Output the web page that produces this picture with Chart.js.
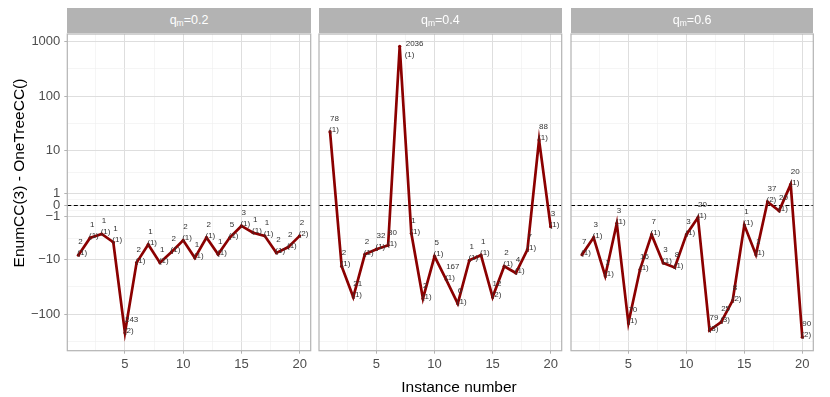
<!DOCTYPE html>
<html>
<head>
<meta charset="utf-8">
<script src="https://cdn.jsdelivr.net/npm/chart.js@4.4.0/dist/chart.umd.min.js"></script>
<style>
body{margin:0;background:#fff;}
#wrap{position:relative;width:830px;height:397px;overflow:hidden;font-family:"Liberation Sans",Arial,sans-serif;}
#wrap canvas{position:absolute;left:0;top:0;}
.strip{position:absolute;top:8.3px;height:25px;background:#b3b3b3;color:#fff;font-size:12.5px;line-height:25px;text-align:center;}
.strip sub{font-size:8.5px;line-height:0;vertical-align:-2px;}
#xtitle{position:absolute;left:359px;top:378px;width:200px;text-align:center;font-size:15.5px;line-height:18px;color:#000;}
#ytitle{position:absolute;left:-106px;top:163.5px;width:250px;height:18px;text-align:center;font-size:15.5px;line-height:18px;color:#000;transform:rotate(-90deg);}
</style>
</head>
<body>
<div id="wrap">
  <canvas id="p1" width="830" height="397"></canvas>
  <canvas id="p2" width="830" height="397"></canvas>
  <canvas id="p3" width="830" height="397"></canvas>
  <div class="strip" style="left:67.3px;width:243.4px">q<sub>m</sub>=0.2</div>
  <div class="strip" style="left:319px;width:242.7px">q<sub>m</sub>=0.4</div>
  <div class="strip" style="left:571px;width:242.3px">q<sub>m</sub>=0.6</div>
  <div id="xtitle">Instance number</div>
  <div id="ytitle">EnumCC(3) - OneTreeCC()</div>
</div>
<script>
// data
const instances = [1,2,3,4,5,6,7,8,9,10,11,12,13,14,15,16,17,18,19,20];

const diffQ02 = [-8.2,-3.75,-3.1,-4.6,-221,-11.3,-5.1,-11.3,-7.1,-4.2,-9.2,-3.7,-7.9,-3.7,-2.0,-2.9,-3.4,-7.4,-5.8,-3.4];
const diffQ04 = [22.3,-13.2,-48.9,-7.9,-6.3,-5.3,822,-3.0,-52,-8.6,-23.3,-64.6,-10.2,-8.2,-48.9,-13.2,-17.6,-6.4,15.7,-2.1];
const diffQ06 = [-8.0,-3.7,-20,-1.7,-147,-15.2,-3.2,-11.5,-13.9,-3.2,-1.1,-200,-141,-56,-1.9,-8.0,0.28,-0.49,1.99,-266];

const labelQ02 = [2,1,1,1,243,2,1,1,2,2,1,2,1,5,3,1,1,2,2,2];
const countQ02 = [1,1,1,1,2,1,1,1,1,1,1,1,1,1,1,1,1,1,1,2];
const labelQ04 = [78,2,21,2,32,30,2036,1,2,5,167,6,1,1,12,2,4,7,88,3];
const countQ04 = [1,1,1,1,1,1,1,1,1,1,1,1,1,1,2,1,1,1,1,1];
const labelQ06 = [7,3,1,3,70,16,7,3,8,3,20,79,25,8,1,1,37,20,20,90];
const countQ06 = [1,1,1,1,1,1,1,1,1,1,1,3,3,2,1,1,2,1,1,2];

const yBreaks = [-100,-10,-1,0,1,10,100,1000];
const yBreakLabels = ['\u2212100','\u221210','\u22121','0','1','10','100','1000'];
const yLimits = [-472, 1387];
const xBreaks = [5,10,15,20];
const xMinor = [2.5,7.5,12.5,17.5];
const xLimits = [0.05, 20.95];

const LINE = '#8b0000';
const GRID = '#dedede';
const GRID_MINOR = '#efefef';
const FRAME = '#b3b3b3';
const FONT = '"Liberation Sans", Arial, sans-serif';

// pseudo-log (asinh) transform, sigma = 1
const LN10 = Math.log(10);
const trans = v => Math.asinh(v/2)/LN10;
const untrans = t => 2*Math.sinh(t*LN10);

class PseudoLogScale extends Chart.LinearScale {
  getPixelForValue(value){
    const a = trans(this.min), b = trans(this.max);
    return this.getPixelForDecimal((trans(value)-a)/(b-a));
  }
  getValueForPixel(pixel){
    const a = trans(this.min), b = trans(this.max);
    return untrans(a + this.getDecimalForPixel(pixel)*(b-a));
  }
}
PseudoLogScale.id = 'pseudolog';
PseudoLogScale.defaults = Chart.LinearScale.defaults;
Chart.register(PseudoLogScale);

// minor breaks halfway between majors in transformed space
function yMinorBreaks(){
  const t = yBreaks.map(trans);
  const step = t[1]-t[0];
  const ext = [t[0]-step, ...t, t[t.length-1]+step];
  const out = [];
  for(let i=0;i<ext.length-1;i++) out.push(untrans((ext[i]+ext[i+1])/2));
  return out.filter(v=>v>yLimits[0] && v<yLimits[1]);
}

const frame = {
  id:'frame',
  beforeDatasetsDraw(chart){
    const {ctx, chartArea:a} = chart;
    const y0 = Math.round(chart.scales.y.getPixelForValue(0)) + 0.5;
    ctx.save();
    ctx.strokeStyle = '#000';
    ctx.lineWidth = 1;
    ctx.setLineDash([4,2.5]);
    ctx.beginPath();
    ctx.moveTo(a.left, y0);
    ctx.lineTo(a.right, y0);
    ctx.stroke();
    ctx.restore();
  },
  afterDatasetsDraw(chart){
    const {ctx, chartArea:a} = chart;
    const meta = chart.getDatasetMeta(0);
    const ds = chart.data.datasets[0];
    ctx.save();
    ctx.font = '8px ' + FONT;
    ctx.fillStyle = '#333';
    ctx.textAlign = 'left';
    ctx.textBaseline = 'middle';
    meta.data.forEach((p,i)=>{
      let x = p.x, yNum = p.y-13, yCnt = p.y-2;
      // keep labels inside the panel (pushed aside like a repel would)
      if(yNum < a.top + 9.5){
        yNum = a.top + 9.5; yCnt = a.top + 20.5; x += 6;
      }
      ctx.fillText(String(ds.valueLabels[i]), x, yNum);
      ctx.fillText('(' + ds.counts[i] + ')', x-1, yCnt);
    });
    ctx.restore();
  },
  afterDraw(chart){
    const {ctx, chartArea:a} = chart;
    ctx.save();
    ctx.strokeStyle = FRAME;
    ctx.lineWidth = 1.2;
    ctx.strokeRect(a.left, a.top, a.right-a.left, a.bottom-a.top);
    ctx.restore();
  }
};

function makePanel(id, values, valueLabels, counts, left, right, showY){
  const points = instances.map((x,i)=>({x, y: values[i]}));
  const minorY = yMinorBreaks();
  new Chart(document.getElementById(id), {
    type:'line',
    data:{ datasets:[{
      data: points, valueLabels, counts,
      borderColor: LINE, backgroundColor: LINE,
      borderWidth: 2.7, pointRadius: 1.6, pointBorderWidth: 0,
      tension: 0
    }]},
    options:{
      responsive:false, animation:false,
      layout:{ autoPadding:false, padding:{ left, right: 830-right, top: 34, bottom: 26.3 } },
      plugins:{ legend:{ display:false }, tooltip:{ enabled:false } },
      scales:{
        x:{
          type:'linear', min:xLimits[0], max:xLimits[1], bounds:'data',
          afterBuildTicks: s => {
            s.ticks = [...xMinor.map(v=>({value:v, minor:true})), ...xBreaks.map(v=>({value:v}))]
              .sort((a,b)=>a.value-b.value);
          },
          afterFit: s => { s.height = 20; },
          border:{ display:false },
          grid:{
            color: c => c.tick && c.tick.minor ? GRID_MINOR : GRID,
            lineWidth: c => c.tick && c.tick.minor ? 0.6 : 1,
            tickColor: c => c.tick && c.tick.minor ? 'rgba(0,0,0,0)' : FRAME,
            tickLength: 3, tickWidth: 1
          },
          ticks:{
            autoSkip:false, maxRotation:0, padding:3, color:'#4d4d4d',
            font:{ family:FONT, size:13 },
            callback: (v,i,t) => t[i].minor ? '' : String(v)
          }
        },
        y:{
          type:'pseudolog', min:yLimits[0], max:yLimits[1], bounds:'data',
          afterBuildTicks: s => {
            s.ticks = [...minorY.map(v=>({value:v, minor:true})), ...yBreaks.map(v=>({value:v}))]
              .sort((a,b)=>a.value-b.value);
          },
          afterFit: s => { s.width = showY ? 67.3 : 0; },
          border:{ display:false },
          grid:{
            color: c => c.tick && c.tick.minor ? GRID_MINOR : GRID,
            lineWidth: c => c.tick && c.tick.minor ? 0.6 : 1,
            tickColor: c => c.tick && c.tick.minor ? 'rgba(0,0,0,0)' : FRAME,
            drawTicks: showY, tickLength: 3, tickWidth: 1
          },
          ticks:{
            display: showY, autoSkip:false, padding:4, color:'#4d4d4d',
            font:{ family:FONT, size:13 },
            callback: (v,i,t) => t[i].minor ? '' : yBreakLabels[yBreaks.indexOf(t[i].value)]
          }
        }
      }
    },
    plugins:[frame]
  });
}

makePanel('p1', diffQ02, labelQ02, countQ02, 0, 310.7, true);
makePanel('p2', diffQ04, labelQ04, countQ04, 319, 561.7, false);
makePanel('p3', diffQ06, labelQ06, countQ06, 571, 813.3, false);
</script>
</body>
</html>
